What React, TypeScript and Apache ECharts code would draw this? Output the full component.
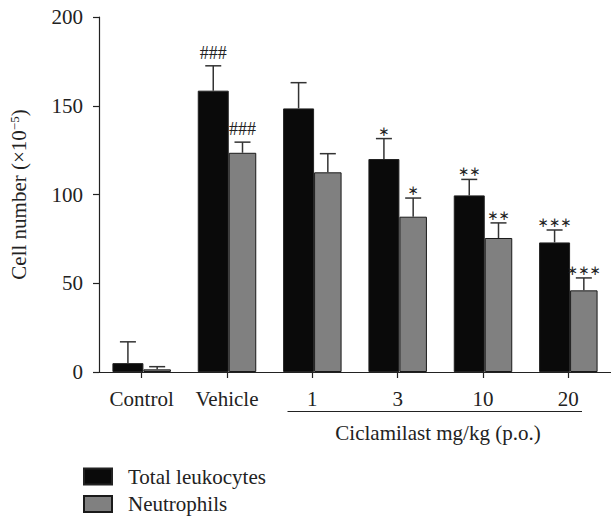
import React, { useEffect, useRef } from "react";
import * as echarts from "echarts";

const categories = ["Control", "Vehicle", "1", "3", "10", "20"];
const leukocytes = [5, 158.5, 148.5, 120, 99.5, 73];
const leukocytesErr = [12, 14, 14.5, 11.5, 9, 7];
const neutrophils = [1.5, 123.5, 112.5, 87.5, 75.5, 46];
const neutrophilsErr = [1.5, 6, 10.5, 10.5, 8.5, 7];
const leukocyteMarks = ["", "###", "", "∗", "∗∗", "∗∗∗"];
const neutrophilMarks = ["", "###", "", "∗", "∗∗", "∗∗∗"];
const yTicks = [0, 50, 100, 150, 200];

const SERIF = "'Liberation Serif', 'DejaVu Serif', serif";
const FS = 21;
const W_BLACK = 31;
const W_GREY = 27.5;
const TOTAL_W = W_BLACK + W_GREY;

function errorSeries(name: string, vals: number[], errs: number[], marks: string[], offset: number) {
  return {
    type: "custom",
    name: name + " err",
    silent: true,
    z: 5,
    clip: false,
    data: vals.map((v, i) => [i, v, errs[i]]),
    renderItem: (params: any, api: any) => {
      const idx = api.value(0);
      const v = api.value(1);
      const e = api.value(2);
      const base = api.coord([idx, v]);
      const top = api.coord([idx, v + e]);
      const x = base[0] + offset;
      const mark = marks[params.dataIndex];
      const children: any[] = [
        { type: "line", shape: { x1: x, y1: base[1], x2: x, y2: top[1] }, style: { stroke: "#333", lineWidth: 1.5 } },
        { type: "line", shape: { x1: x - 8, y1: top[1], x2: x + 8, y2: top[1] }, style: { stroke: "#333", lineWidth: 1.5 } },
      ];
      if (mark) {
        const isHash = mark.indexOf("#") >= 0;
        children.push({
          type: "text",
          style: {
            text: mark,
            x: x,
            y: top[1] - (isHash ? 13 : 8),
            align: "center",
            verticalAlign: "middle",
            fill: "#222",
            font: isHash ? `18px ${SERIF}` : "13.5px 'DejaVu Sans', sans-serif",
          },
        });
      }
      return { type: "group", children };
    },
  };
}

export default function App() {
  const ref = useRef<HTMLDivElement>(null);
  useEffect(() => {
    const chart = echarts.init(ref.current!, null, { renderer: "svg" });
    const legendBase = {
      orient: "horizontal",
      left: 83,
      padding: 0,
      itemWidth: 28,
      itemHeight: 16,
      icon: "rect",
      textStyle: { fontFamily: SERIF, fontSize: FS, color: "#222", padding: [0, 0, 0, 11] },
    };
    chart.setOption({
      animation: false,
      textStyle: { fontFamily: SERIF },
      grid: { left: 91, right: 0, top: 17, bottom: 144, containLabel: false },
      legend: [
        { ...legendBase, top: 466, data: ["Total leukocytes"] },
        { ...legendBase, top: 493.5, data: ["Neutrophils"] },
      ],
      xAxis: {
        type: "category",
        data: categories,
        axisLine: { show: true, lineStyle: { color: "#222", width: 1.2 } },
        axisTick: { show: true, alignWithLabel: true, length: 6, lineStyle: { color: "#222", width: 1.2 } },
        axisLabel: { fontFamily: SERIF, fontSize: FS, color: "#222", margin: 16 },
      },
      yAxis: {
        type: "value",
        min: 0,
        max: 200,
        interval: 50,
        name: "Cell number (×10{sup|−5})",
        nameLocation: "middle",
        nameRotate: 90,
        nameGap: 69,
        nameTextStyle: {
          fontFamily: SERIF,
          fontSize: FS,
          color: "#222",
          rich: { sup: { fontFamily: SERIF, fontSize: 13, color: "#222", verticalAlign: "top", lineHeight: 22 } },
        },
        axisLine: { show: true, lineStyle: { color: "#222", width: 1.2 } },
        axisTick: { show: true, length: 6, lineStyle: { color: "#222", width: 1.2 } },
        axisLabel: { fontFamily: SERIF, fontSize: FS, color: "#222", margin: 16, customValues: yTicks },
        splitLine: { show: false },
      },
      graphic: [
        { type: "line", shape: { x1: 287.5, y1: 411.5, x2: 582, y2: 411.5 }, style: { stroke: "#222", lineWidth: 1.2 } },
        {
          type: "text",
          x: 438,
          y: 433,
          style: { text: "Ciclamilast mg/kg (p.o.)", align: "center", verticalAlign: "middle", fill: "#222", font: `${FS}px ${SERIF}` },
        },
      ],
      series: [
        {
          type: "bar",
          name: "Total leukocytes",
          data: leukocytes,
          barWidth: W_BLACK,
          barGap: "0%",
          itemStyle: { color: "#0a0a0a", borderColor: "#222", borderWidth: 1 },
        },
        {
          type: "bar",
          name: "Neutrophils",
          data: neutrophils,
          barWidth: W_GREY,
          barGap: "0%",
          itemStyle: { color: "#808080", borderColor: "#1a1a1a", borderWidth: 1 },
        },
        errorSeries("Total leukocytes", leukocytes, leukocytesErr, leukocyteMarks, -TOTAL_W / 2 + W_BLACK / 2),
        errorSeries("Neutrophils", neutrophils, neutrophilsErr, neutrophilMarks, -TOTAL_W / 2 + W_BLACK + W_GREY / 2),
      ],
    });
    return () => chart.dispose();
  }, []);
  return <div ref={ref} style={{ position: "absolute", left: 0, top: 0, width: 611, height: 516 }} />;
}
